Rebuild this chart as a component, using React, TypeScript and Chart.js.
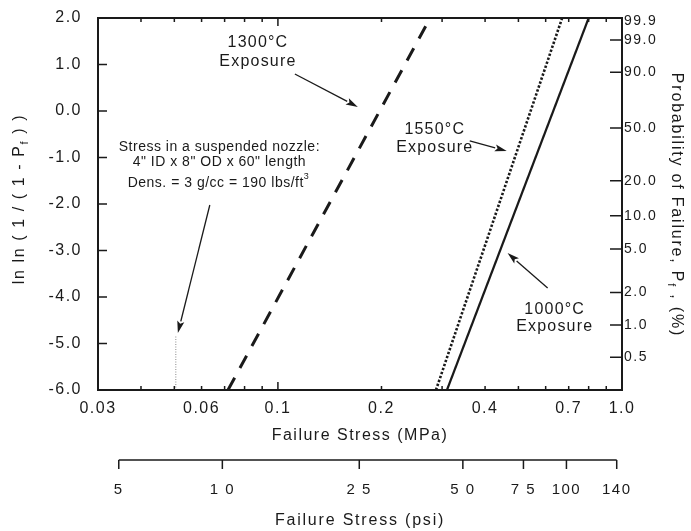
import { useEffect, useRef } from "react";
import { Chart, registerables } from "chart.js";

Chart.register(...registerables);

const FONT = "'Liberation Sans', Arial, Helvetica, sans-serif";
const INK = "#1a1a1a";

// ln ln(1/(1-Pf)) at the two ends of each fitted Weibull line
const lnlnEnds = [-6.0, 2.0];
// failure stress (MPa) at those two ends
const stress1000C = [0.31, 0.8];
const stress1300C = [0.0716, 0.277];
const stress1550C = [0.288, 0.67];

// self-weight stress in the suspended nozzle
const nozzleStress = [0.0505, 0.0505];
const nozzleLnln = [-6.0, -4.85];

const stressTicks = [0.03, 0.06, 0.1, 0.2, 0.4, 0.7, 1.0];
const stressTickLabels = ["0.03", "0.06", "0.1", "0.2", "0.4", "0.7", "1.0"];
const stressMinorTicks = [0.04, 0.05, 0.06, 0.07, 0.08, 0.09, 0.1, 0.2, 0.3, 0.4, 0.5, 0.6, 0.7, 0.8, 0.9];
const lnlnTicks = [-6, -5, -4, -3, -2, -1, 0, 1, 2];
const probabilityTicks = [99.9, 99.0, 90.0, 50.0, 20.0, 10.0, 5.0, 2.0, 1.0, 0.5];
const psiTicks = [5, 10, 25, 50, 75, 100, 140];
const psiTickLabels = ["5", "1 0", "2 5", "5 0", "7 5", "100", "140"];
const PSI_PER_MPA = 145.038;

const lnlnOfProbability = (p: number) => Math.log(-Math.log(1 - p / 100));

// Callout text blocks, anchored in (stress MPa, ln ln) coordinates
type Note = { at: [number, number]; lines: string[]; size: number; spacing: number; lineHeight: number };
const notes: Note[] = [
  { at: [0.0875, 1.26], lines: ["1300°C", "Exposure"], size: 16, spacing: 1.2, lineHeight: 19 },
  { at: [0.2857, -0.6], lines: ["1550°C", "Exposure"], size: 16, spacing: 1.2, lineHeight: 18 },
  { at: [0.6375, -4.46], lines: ["1000°C", "Exposure"], size: 16, spacing: 1.2, lineHeight: 17 },
  {
    at: [0.0676, -0.935],
    lines: ["Stress in a suspended nozzle:", "4\" ID x 8\" OD x 60\" length"],
    size: 14,
    spacing: 0.5,
    lineHeight: 15,
  },
];
const densityNote = { at: [0.0672, -1.548] as [number, number], text: "Dens. = 3 g/cc = 190 lbs/ft", sup: "3" };

const arrows: { from: [number, number]; to: [number, number] }[] = [
  { from: [0.112, 0.796], to: [0.1707, 0.086] },
  { from: [0.361, -0.645], to: [0.4624, -0.86] },
  { from: [0.608, -3.806], to: [0.465, -3.054] },
  { from: [0.0634, -2.022], to: [0.0512, -4.774] },
];

const pairs = (xs: number[], ys: number[]) => xs.map((x, i) => ({ x, y: ys[i] }));

function drawArrow(ctx: CanvasRenderingContext2D, x1: number, y1: number, x2: number, y2: number) {
  const ang = Math.atan2(y2 - y1, x2 - x1);
  const len = 12;
  const half = 3.6;
  const bx = x2 - len * Math.cos(ang);
  const by = y2 - len * Math.sin(ang);
  ctx.beginPath();
  ctx.moveTo(x1, y1);
  ctx.lineTo(bx, by);
  ctx.lineWidth = 1.3;
  ctx.strokeStyle = INK;
  ctx.stroke();
  ctx.beginPath();
  ctx.moveTo(x2, y2);
  ctx.lineTo(bx - half * Math.sin(ang), by + half * Math.cos(ang));
  ctx.lineTo(bx + 2.5 * Math.cos(ang), by + 2.5 * Math.sin(ang));
  ctx.lineTo(bx + half * Math.sin(ang), by - half * Math.cos(ang));
  ctx.closePath();
  ctx.fillStyle = INK;
  ctx.fill();
}

// Draws a run of text pieces (normal / subscript / superscript) centred on the origin
function drawPieces(
  ctx: CanvasRenderingContext2D,
  pieces: { t: string; size: number; dy: number }[],
  spacing: number
) {
  ctx.letterSpacing = `${spacing}px`;
  ctx.textBaseline = "middle";
  ctx.textAlign = "left";
  const widths = pieces.map((p) => {
    ctx.font = `${p.size}px ${FONT}`;
    return ctx.measureText(p.t).width;
  });
  const total = widths.reduce((a, b) => a + b, 0);
  let x = -total / 2;
  pieces.forEach((p, i) => {
    ctx.font = `${p.size}px ${FONT}`;
    ctx.fillText(p.t, x, p.dy);
    x += widths[i];
  });
}

const noEdgePadding = (scale: any) => {
  scale.paddingTop = 0;
  scale.paddingBottom = 0;
  scale.paddingLeft = 0;
  scale.paddingRight = 0;
};

const decorations = {
  id: "decorations",
  beforeLayout(chart: any) {
    chart.ctx.letterSpacing = "1.5px";
  },
  beforeDraw(chart: any) {
    chart.ctx.letterSpacing = "1.5px";
  },
  afterDraw(chart: any) {
    const ctx: CanvasRenderingContext2D = chart.ctx;
    const { left, right, top, bottom } = chart.chartArea;
    const xs = chart.scales.x;
    const ys = chart.scales.y;
    const px = (v: number) => xs.getPixelForValue(v);
    const py = (v: number) => ys.getPixelForValue(v);

    ctx.save();
    ctx.strokeStyle = INK;
    ctx.fillStyle = INK;

    // plot frame
    ctx.lineWidth = 2;
    ctx.strokeRect(left, top, right - left, bottom - top);

    // inward tick marks
    ctx.lineWidth = 1.5;
    ctx.beginPath();
    lnlnTicks.forEach((v) => {
      const y = py(v);
      ctx.moveTo(left, y);
      ctx.lineTo(left + 9, y);
    });
    probabilityTicks.forEach((p) => {
      const y = py(lnlnOfProbability(p));
      if (y - top < 6) return;
      ctx.moveTo(right, y);
      ctx.lineTo(right - 12, y);
    });
    stressMinorTicks.forEach((v) => {
      const x = px(v);
      const len = Math.abs(Math.log10(v) - Math.round(Math.log10(v))) < 1e-6 ? 8 : 4;
      ctx.moveTo(x, bottom);
      ctx.lineTo(x, bottom - len);
      ctx.moveTo(x, top);
      ctx.lineTo(x, top + len);
    });
    ctx.stroke();

    // callout texts
    ctx.textAlign = "center";
    ctx.textBaseline = "middle";
    notes.forEach((n) => {
      ctx.font = `${n.size}px ${FONT}`;
      ctx.letterSpacing = `${n.spacing}px`;
      const cx = px(n.at[0]);
      const cy = py(n.at[1]);
      const y0 = cy - ((n.lines.length - 1) * n.lineHeight) / 2;
      n.lines.forEach((line, i) => ctx.fillText(line, cx, y0 + i * n.lineHeight));
    });
    ctx.save();
    ctx.translate(px(densityNote.at[0]), py(densityNote.at[1]));
    drawPieces(
      ctx,
      [
        { t: densityNote.text, size: 14, dy: 0 },
        { t: densityNote.sup, size: 9, dy: -6 },
      ],
      0.5
    );
    ctx.restore();

    arrows.forEach((a) => drawArrow(ctx, px(a.from[0]), py(a.from[1]), px(a.to[0]), py(a.to[1])));

    // rotated axis titles with subscript f
    ctx.save();
    ctx.translate(20, (top + bottom) / 2 - 5);
    ctx.rotate(-Math.PI / 2);
    drawPieces(
      ctx,
      [
        { t: "ln ln ( 1 / ( 1 - P", size: 16, dy: 0 },
        { t: "f", size: 11, dy: 5 },
        { t: " ) )", size: 16, dy: 0 },
      ],
      1.6
    );
    ctx.restore();

    ctx.save();
    ctx.translate(676, (top + bottom) / 2 + 1);
    ctx.rotate(Math.PI / 2);
    drawPieces(
      ctx,
      [
        { t: "Probability of Failure, P", size: 16, dy: 0 },
        { t: "f", size: 11, dy: 5 },
        { t: " , (%)", size: 16, dy: 0 },
      ],
      1.8
    );
    ctx.restore();

    // secondary stress axis in psi, laid along the MPa scale
    const base = bottom + 70;
    const psiX = (v: number) => px(v / PSI_PER_MPA);
    ctx.lineWidth = 1.5;
    ctx.beginPath();
    ctx.moveTo(psiX(psiTicks[0]), base);
    ctx.lineTo(psiX(psiTicks[psiTicks.length - 1]), base);
    psiTicks.forEach((v) => {
      ctx.moveTo(psiX(v), base);
      ctx.lineTo(psiX(v), base + 9);
    });
    ctx.stroke();
    ctx.font = `15px ${FONT}`;
    ctx.letterSpacing = "1.5px";
    ctx.textAlign = "center";
    ctx.textBaseline = "middle";
    psiTicks.forEach((v, i) => ctx.fillText(psiTickLabels[i], psiX(v), base + 30));
    ctx.font = `16px ${FONT}`;
    ctx.letterSpacing = "1.8px";
    ctx.fillText("Failure Stress (psi)", (left + right) / 2, base + 61);

    ctx.restore();
  },
};

export default function App() {
  const canvasRef = useRef<HTMLCanvasElement | null>(null);

  useEffect(() => {
    const canvas = canvasRef.current;
    if (!canvas) return;
    const tickFont = { family: FONT, size: 16 };
    const chart = new Chart(canvas, {
      type: "scatter",
      data: {
        datasets: [
          {
            label: "1300°C Exposure",
            data: pairs(stress1300C, lnlnEnds),
            showLine: true,
            borderColor: INK,
            borderWidth: 3,
            borderDash: [14, 11],
            pointRadius: 0,
          },
          {
            label: "1550°C Exposure",
            data: pairs(stress1550C, lnlnEnds),
            showLine: true,
            borderColor: INK,
            borderWidth: 2.6,
            borderDash: [2.4, 1.8],
            pointRadius: 0,
          },
          {
            label: "1000°C Exposure",
            data: pairs(stress1000C, lnlnEnds),
            showLine: true,
            borderColor: INK,
            borderWidth: 2.2,
            pointRadius: 0,
          },
          {
            label: "Nozzle stress",
            data: pairs(nozzleStress, nozzleLnln),
            showLine: true,
            borderColor: "#8a8a8a",
            borderWidth: 1,
            borderDash: [1, 1.5],
            pointRadius: 0,
          },
        ],
      },
      options: {
        responsive: false,
        animation: false,
        devicePixelRatio: 1,
        layout: { padding: { top: 18, left: 0, right: 0, bottom: 0 } },
        plugins: {
          legend: { display: false },
          tooltip: { enabled: false },
        },
        scales: {
          x: {
            type: "logarithmic",
            position: "bottom",
            min: 0.03,
            max: 1.0,
            grid: { display: false, drawTicks: false },
            border: { display: false },
            afterBuildTicks: (scale: any) => {
              scale.ticks = stressTicks.map((v) => ({ value: v }));
            },
            afterFit: (scale: any) => {
              scale.height = 141;
              noEdgePadding(scale);
            },
            ticks: {
              autoSkip: false,
              maxRotation: 0,
              color: INK,
              font: tickFont,
              padding: 9,
              callback: (_v: any, i: number) => stressTickLabels[i],
            },
            title: {
              display: true,
              text: "Failure Stress (MPa)",
              color: INK,
              font: { family: FONT, size: 16 },
              padding: { top: 0, bottom: 86 },
            },
          },
          y: {
            type: "linear",
            position: "left",
            min: lnlnEnds[0],
            max: lnlnEnds[1],
            grid: { display: false, drawTicks: false },
            border: { display: false },
            afterBuildTicks: (scale: any) => {
              scale.ticks = lnlnTicks.map((v) => ({ value: v }));
            },
            afterFit: (scale: any) => {
              scale.width = 98;
              noEdgePadding(scale);
            },
            ticks: {
              autoSkip: false,
              color: INK,
              font: tickFont,
              padding: 16,
              callback: (v: any) => Number(v).toFixed(1),
            },
          },
          y2: {
            type: "linear",
            position: "right",
            min: lnlnEnds[0],
            max: lnlnEnds[1],
            grid: { display: false, drawTicks: false },
            border: { display: false },
            afterBuildTicks: (scale: any) => {
              scale.ticks = probabilityTicks.map((p) => ({ value: lnlnOfProbability(p) }));
            },
            afterFit: (scale: any) => {
              scale.width = 69;
              noEdgePadding(scale);
            },
            ticks: {
              autoSkip: false,
              color: INK,
              font: { family: FONT, size: 14 },
              padding: 2,
              callback: (_v: any, i: number) => probabilityTicks[i].toFixed(1),
            },
          },
        },
      },
      plugins: [decorations],
    } as any);
    return () => chart.destroy();
  }, []);

  return (
    <div style={{ position: "fixed", left: 0, top: 0, width: 691, height: 531, background: "#fff" }}>
      <canvas ref={canvasRef} width={691} height={531} style={{ width: 691, height: 531, display: "block" }} />
    </div>
  );
}
